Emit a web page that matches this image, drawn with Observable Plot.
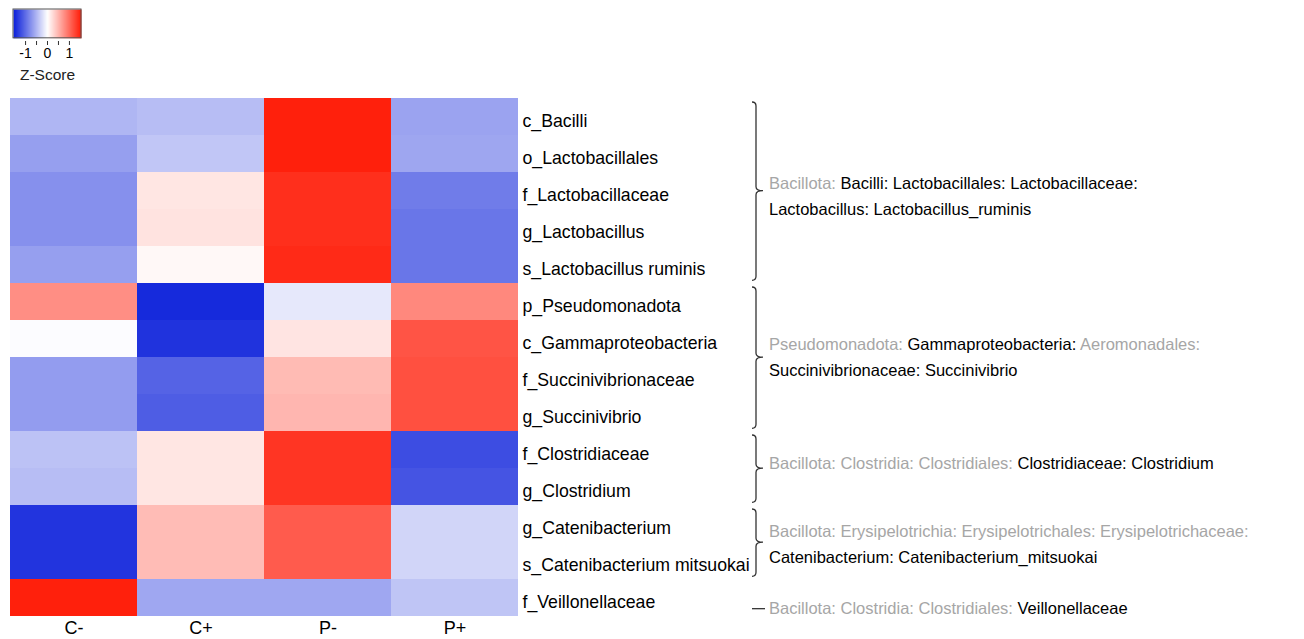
<!DOCTYPE html>
<html>
<head>
<meta charset="utf-8">
<script src="https://cdn.jsdelivr.net/npm/d3@7"></script>
<script src="https://cdn.jsdelivr.net/npm/@observablehq/plot@0.6"></script>
<style>
  html, body { margin: 0; padding: 0; background: #fff; }
  body { width: 1304px; height: 639px; position: relative; overflow: hidden;
         font-family: "Liberation Sans", Arial, sans-serif; }
  #legend { position: absolute; left: 0; top: 0; }
  #chart { position: absolute; left: 0; top: 88px; }
</style>
</head>
<body>
<div id="legend"></div>
<div id="chart"></div>
<script>
// ---------- data ----------
const groups = ["C-", "C+", "P-", "P+"];
const taxa = [
  "c_Bacilli",
  "o_Lactobacillales",
  "f_Lactobacillaceae",
  "g_Lactobacillus",
  "s_Lactobacillus ruminis",
  "p_Pseudomonadota",
  "c_Gammaproteobacteria",
  "f_Succinivibrionaceae",
  "g_Succinivibrio",
  "f_Clostridiaceae",
  "g_Clostridium",
  "g_Catenibacterium",
  "s_Catenibacterium mitsuokai",
  "f_Veillonellaceae"
];
// Z-scores per group (one value per taxon, same order as taxa)
const zCminus = [-0.50, -0.66, -0.76, -0.76, -0.66,  0.76, -0.02, -0.68, -0.68, -0.42, -0.45, -1.39, -1.39,  1.50];
const zCplus  = [-0.45, -0.39,  0.17,  0.19,  0.05, -1.46, -1.40, -1.07, -1.11,  0.17,  0.17,  0.45,  0.45, -0.60];
const zPminus = [ 1.50,  1.50,  1.40,  1.40,  1.43, -0.16,  0.18,  0.46,  0.49,  1.36,  1.36,  1.10,  1.10, -0.60];
const zPplus  = [-0.63, -0.61, -0.90, -0.94, -0.94,  0.80,  1.15,  1.18,  1.18, -1.22, -1.17, -0.29, -0.29, -0.40];

// taxonomy annotations (rows spanned, and text segments; highlighted = rank shown in black)
const annotationStart = [0, 5, 9, 11, 13];
const annotationEnd   = [4, 8, 10, 12, 13];
const annotationLines = [
  [
    [{text: "Bacillota: ", highlighted: false}, {text: "Bacilli: Lactobacillales: Lactobacillaceae:", highlighted: true}],
    [{text: "Lactobacillus: Lactobacillus_ruminis", highlighted: true}]
  ],
  [
    [{text: "Pseudomonadota: ", highlighted: false}, {text: "Gammaproteobacteria: ", highlighted: true}, {text: "Aeromonadales:", highlighted: false}],
    [{text: "Succinivibrionaceae: Succinivibrio", highlighted: true}]
  ],
  [
    [{text: "Bacillota: Clostridia: Clostridiales: ", highlighted: false}, {text: "Clostridiaceae: Clostridium", highlighted: true}]
  ],
  [
    [{text: "Bacillota: Erysipelotrichia: Erysipelotrichales: Erysipelotrichaceae:", highlighted: false}],
    [{text: "Catenibacterium: Catenibacterium_mitsuokai", highlighted: true}]
  ],
  [
    [{text: "Bacillota: Clostridia: Clostridiales: ", highlighted: false}, {text: "Veillonellaceae", highlighted: true}]
  ]
];

// legend
const legendDomain = [-1.55, 1.55];
const legendTicks = [-1, -0.5, 0, 0.5, 1];
const legendTickLabels = [-1, 0, 1];
const legendTitle = "Z-Score";

// ---------- styling ----------
const FONT = "Liberation Sans, Arial, Helvetica, sans-serif";
const colorScale = {
  type: "linear",
  domain: [-1.5, 0, 1.5],
  range: ["#1024db", "#ffffff", "#ff200c"],
  interpolate: "rgb",
  clamp: true
};
const annotationNudge = [5, 0, -5, 2, 10]; // vertical label offsets (px)

const series = [zCminus, zCplus, zPminus, zPplus];
const cells = taxa.flatMap((t, i) => groups.map((g, j) => ({taxon: t, group: g, z: series[j][i]})));

// ---------- legend ----------
const legend = Plot.plot({
  width: 130,
  height: 88,
  marginLeft: 13,
  marginRight: 49,
  marginTop: 9,
  marginBottom: 47,
  x: {domain: legendDomain},
  y: {domain: [0, 1], axis: null},
  color: colorScale,
  style: {fontFamily: FONT, color: "#000", background: "transparent"},
  marks: [
    Plot.raster({x1: legendDomain[0], x2: legendDomain[1], y1: 0.1, y2: 1, width: 68, height: 1,
                 fill: (x, y) => x, imageRendering: "auto"}),
    Plot.rect([0], {x1: legendDomain[0], x2: legendDomain[1], y1: 0.1, y2: 1,
                    fill: "none", stroke: "#555", strokeWidth: 1}),
    Plot.axisX({
      ticks: legendTicks,
      tickFormat: d => legendTickLabels.includes(d) ? String(d) : "",
      tickSize: 4,
      tickPadding: 3,
      fontSize: 14,
      stroke: "#333",
      label: null
    }),
    Plot.text([legendTitle], {x: 0, y: -1.05, text: d => d, fontSize: 15.5, fill: "#222", lineAnchor: "middle"})
  ]
});
document.getElementById("legend").append(legend);

// ---------- braces + annotation text (custom render mark using the y scale) ----------
function annotations(index, scales, values, dims) {
  const y = scales.y;
  const step = (dims.height - dims.marginTop - dims.marginBottom) / taxa.length;
  const right = dims.width - dims.marginRight;
  const xLine = right + 237, xHook = xLine - 4, xCusp = xLine + 7, xText = right + 250;
  const g = d3.create("svg:g").attr("text-anchor", "start");
  annotationStart.forEach((s, i) => {
    const e = annotationEnd[i];
    const y0 = y(taxa[s]), y1 = y(taxa[e]) + step;
    const mid = (y0 + y1) / 2;
    const nudge = annotationNudge[i];
    if (s === e) {
      g.append("line")
        .attr("x1", xHook).attr("x2", xCusp + 2)
        .attr("y1", mid + nudge + 1).attr("y2", mid + nudge + 1)
        .attr("stroke", "#333").attr("stroke-width", 1.3);
    } else {
      const t = y0 + 4, b = y1 - 3;
      const d = `M${xHook},${t} Q${xLine},${t} ${xLine},${t + 4}` +
                ` L${xLine},${mid - 4} Q${xLine},${mid} ${xCusp},${mid}` +
                ` Q${xLine},${mid} ${xLine},${mid + 4}` +
                ` L${xLine},${b - 4} Q${xLine},${b} ${xHook},${b}`;
      g.append("path").attr("d", d).attr("fill", "none")
        .attr("stroke", "#333").attr("stroke-width", 1.3);
    }
    const lines = annotationLines[i];
    const n = lines.length;
    lines.forEach((segs, k) => {
      const ty = mid + (k - (n - 1) / 2) * 26 + nudge;
      const text = g.append("text")
        .attr("x", xText).attr("y", ty)
        .attr("text-anchor", "start")
        .attr("dominant-baseline", "central")
        .attr("font-family", FONT)
        .attr("font-size", 16.5)
        .style("white-space", "pre");
      segs.forEach(seg => {
        text.append("tspan").attr("fill", seg.highlighted ? "#000" : "#a6a6a6").text(seg.text);
      });
    });
  });
  return g.node();
}

// ---------- heatmap ----------
const chart = Plot.plot({
  width: 1304,
  height: 551,
  marginLeft: 9,
  marginRight: 785,
  marginTop: 7,
  marginBottom: 21,
  x: {domain: groups, padding: 0},
  y: {domain: taxa, padding: 0},
  color: colorScale,
  style: {fontFamily: FONT, color: "#000", background: "transparent"},
  marks: [
    Plot.cell(cells, {x: "group", y: "taxon", fill: "z"}),
    Plot.axisX({anchor: "bottom", tickSize: 0, tickPadding: 3, fontSize: 18, label: null}),
    Plot.axisY({anchor: "right", tickSize: 0, tickPadding: 3, fontSize: 17.7, label: null, dy: 4}),
    annotations
  ]
});
document.getElementById("chart").append(chart);
</script>
</body>
</html>
